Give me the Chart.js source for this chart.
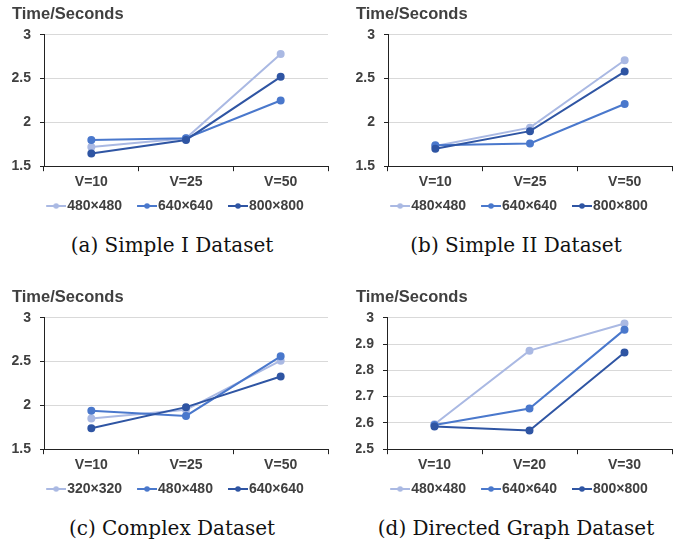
<!DOCTYPE html>
<html>
<head>
<meta charset="utf-8">
<script src="https://cdn.jsdelivr.net/npm/chart.js@4.4.1/dist/chart.umd.min.js"></script>
<style>
  html, body { margin: 0; padding: 0; background: #fff; }
  #wrap { position: relative; width: 687px; height: 539px; overflow: hidden; }
  .panel { position: absolute; width: 344px; height: 270px; }
  .panel canvas { position: absolute; left: 0; top: 0; }
  .caption {
    position: absolute; left: 0; top: 231px; width: 344px; height: 28px;
    line-height: 28px; text-align: center; white-space: nowrap;
    font-family: "DejaVu Serif", serif; font-size: 20px; color: #111;
  }
</style>
</head>
<body>
<div id="wrap">
  <div class="panel" style="left:0;top:0"><canvas id="chartA" width="344" height="223"></canvas><div class="caption">(a) Simple I Dataset</div></div>
  <div class="panel" style="left:344px;top:0"><canvas id="chartB" width="344" height="223"></canvas><div class="caption">(b) Simple II Dataset</div></div>
  <div class="panel" style="left:0;top:283px"><canvas id="chartC" width="344" height="223"></canvas><div class="caption">(c) Complex Dataset</div></div>
  <div class="panel" style="left:344px;top:283px"><canvas id="chartD" width="344" height="223"></canvas><div class="caption">(d) Directed Graph Dataset</div></div>
</div>
<script>
// category labels
const verticesABC = ['V=10', 'V=25', 'V=50'];
const verticesD = ['V=10', 'V=20', 'V=30'];

// (a) Simple I
const simple1_480 = [1.72, 1.82, 2.78];
const simple1_640 = [1.80, 1.82, 2.25];
const simple1_800 = [1.645, 1.80, 2.52];

// (b) Simple II
const simple2_480 = [1.73, 1.94, 2.71];
const simple2_640 = [1.74, 1.76, 2.21];
const simple2_800 = [1.70, 1.90, 2.58];

// (c) Complex
const complex_320 = [1.85, 1.95, 2.51];
const complex_480 = [1.94, 1.88, 2.56];
const complex_640 = [1.74, 1.98, 2.33];

// (d) Directed graph
const directed_480 = [2.595, 2.875, 2.978];
const directed_640 = [2.592, 2.655, 2.955];
const directed_800 = [2.586, 2.571, 2.868];

const colors = ['#aab9e3', '#4a78cc', '#2f55a3'];
const textColor = '#404040';
const axisColor = '#222';

Chart.defaults.font.family = '"Liberation Sans", Arial, sans-serif';
Chart.defaults.color = textColor;

// legend marker: short line with a dot, drawn into a small canvas.
// the line sits in the right part so it ends right before the label text
function makeMarker(color) {
    const c = document.createElement('canvas');
    c.width = 36;
    c.height = 8;
    const ctx = c.getContext('2d');
    ctx.strokeStyle = color;
    ctx.lineWidth = 2;
    ctx.beginPath();
    ctx.moveTo(16, 4);
    ctx.lineTo(36, 4);
    ctx.stroke();
    ctx.fillStyle = color;
    ctx.beginPath();
    ctx.arc(26, 4, 2.8, 0, Math.PI * 2);
    ctx.fill();
    return c;
}
const markers = colors.map(makeMarker);

function makeChart(id, labels, series, names, yMin, yMax, step, axisWidth) {
    const ctx = document.getElementById(id).getContext('2d');
    const datasets = series.map((data, i) => ({
        label: names[i],
        data: data,
        borderColor: colors[i],
        backgroundColor: colors[i],
        borderWidth: 2,
        pointRadius: 3,
        pointHoverRadius: 3,
        pointStyle: 'circle',
        tension: 0,
        order: 3 - i // darker series on top, like Excel
    }));

    return new Chart(ctx, {
        type: 'line',
        data: { labels: labels, datasets: datasets },
        options: {
            responsive: false,
            animation: false,
            layout: { padding: { left: 12, right: 16, top: 0, bottom: 0 } },
            plugins: {
                title: {
                    display: true,
                    text: 'Time/Seconds',
                    align: 'start',
                    color: textColor,
                    font: { size: 16.5, weight: 'bold' },
                    padding: { top: 5, bottom: 10 }
                },
                legend: {
                    position: 'bottom',
                    labels: {
                        usePointStyle: true,
                        pointStyleWidth: 24,
                        padding: 5,
                        color: textColor,
                        font: { size: 14, weight: 'bold' },
                        sort: (a, b) => a.datasetIndex - b.datasetIndex,
                        generateLabels: chart => {
                            const items = Chart.defaults.plugins.legend.labels.generateLabels(chart);
                            items.forEach(item => { item.pointStyle = markers[item.datasetIndex]; });
                            return items;
                        }
                    }
                },
                tooltip: { enabled: false }
            },
            scales: {
                x: {
                    offset: true,
                    grid: {
                        offset: true,
                        drawOnChartArea: false,
                        tickLength: 5,
                        tickColor: axisColor
                    },
                    border: { color: axisColor, width: 1 },
                    ticks: {
                        padding: 3,
                        color: textColor,
                        font: { size: 14, weight: 'bold' }
                    }
                },
                y: {
                    min: yMin,
                    max: yMax,
                    grid: {
                        color: '#d9d9d9',
                        tickColor: axisColor,
                        tickLength: 4
                    },
                    border: { color: axisColor, width: 1 },
                    ticks: {
                        stepSize: step,
                        padding: 9,
                        color: textColor,
                        font: { size: 14, weight: 'bold' },
                        callback: value => String(parseFloat(value.toFixed(2)))
                    },
                    afterFit: scale => { scale.width = axisWidth; }
                }
            }
        }
    });
}

makeChart('chartA', verticesABC, [simple1_480, simple1_640, simple1_800],
    ['480×480', '640×640', '800×800'], 1.5, 3, 0.5, 32);
makeChart('chartB', verticesABC, [simple2_480, simple2_640, simple2_800],
    ['480×480', '640×640', '800×800'], 1.5, 3, 0.5, 32);
makeChart('chartC', verticesABC, [complex_320, complex_480, complex_640],
    ['320×320', '480×480', '640×640'], 1.5, 3, 0.5, 32);
makeChart('chartD', verticesD, [directed_480, directed_640, directed_800],
    ['480×480', '640×640', '800×800'], 2.5, 3, 0.1, 31);
</script>
</body>
</html>
